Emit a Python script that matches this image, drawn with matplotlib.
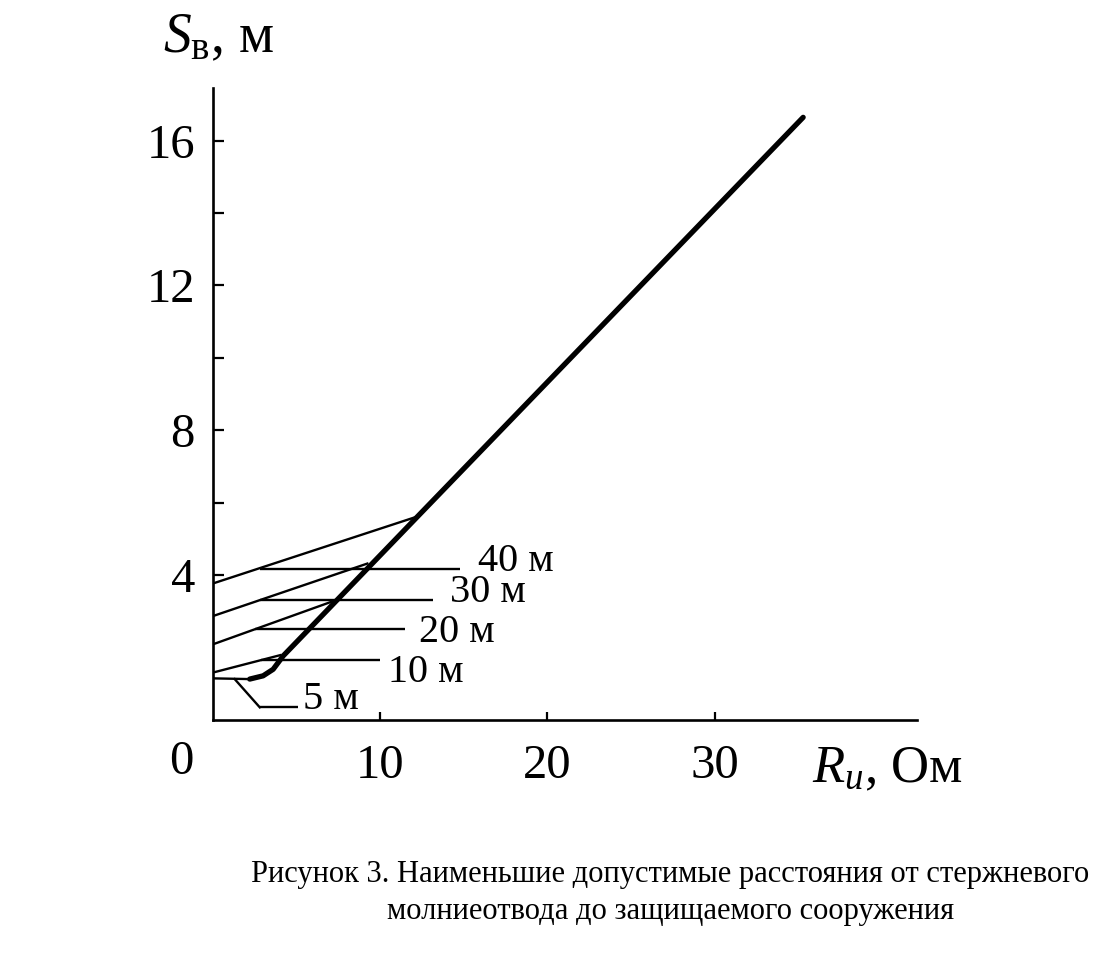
import matplotlib
matplotlib.use("Agg")
import matplotlib.pyplot as plt
from matplotlib.ticker import FixedLocator

plt.rcParams['font.family'] = ['Liberation Serif', 'DejaVu Serif']
plt.rcParams['mathtext.fontset'] = 'custom'
plt.rcParams['mathtext.rm'] = 'Liberation Serif'
plt.rcParams['mathtext.it'] = 'Liberation Serif:italic'

#==================================================================================================
#			DATA
#==================================================================================================
#Main curve S_v(R_i), thick line
main_R = [2.2, 3.0, 3.6, 4.2, 12.2, 35.3]
main_S = [1.13, 1.22, 1.40, 1.77, 5.60, 16.64]

#Height of the rod lightning conductor, curve labels
heights = ['5 м', '10 м', '20 м', '30 м', '40 м']
#Thin sloped lines: start at R=0 and end on the main curve
slope_S0 = [1.15, 1.31, 2.09, 2.87, 3.77]
slope_R1 = [2.2, 4.1, 7.3, 9.3, 12.1]
slope_S1 = [1.13, 1.80, 3.30, 4.33, 5.60]
#Horizontal leaders to the labels
lead_S = [0.35, 1.65, 2.51, 3.31, 4.16]
lead_R0 = [2.8, 2.85, 2.5, 2.8, 2.8]
lead_R1 = [5.1, 10.0, 11.5, 13.15, 14.76]
#Diagonal part of the 5 m leader
lead5_R = [1.3, 2.8]
lead5_S = [1.13, 0.35]

#Label positions (left, baseline)
lab_R = [5.4, 10.45, 12.35, 14.15, 15.85]
lab_S = [0.30, 1.05, 2.15, 3.25, 4.12]

x_ticks = [10, 20, 30]
y_ticks = [4, 8, 12, 16]
y_minor = [6, 10, 14]

caption = ("Рисунок 3. Наименьшие допустимые расстояния от стержневого\n"
           "молниеотвода до защищаемого сооружения")

#==================================================================================================
#			PLOT
#==================================================================================================
fig = plt.figure(figsize=(11.12, 9.64), dpi=100)
ax = fig.add_axes([0.1915, 0.2531, 0.633, 0.6556])

thin = 1.7
#thin lines
for i in range(len(heights)):
    ax.plot([0, slope_R1[i]], [slope_S0[i], slope_S1[i]], color='black', lw=thin,
            solid_capstyle='butt')
    ax.plot([lead_R0[i], lead_R1[i]], [lead_S[i], lead_S[i]], color='black', lw=thin,
            solid_capstyle='butt')
    ax.text(lab_R[i], lab_S[i], heights[i], fontsize=29, ha='left', va='baseline')
ax.plot(lead5_R, lead5_S, color='black', lw=thin)

#main curve
ax.plot(main_R, main_S, color='black', lw=3.8, solid_capstyle='round')

ax.set_xlim(0, 42.1)
ax.set_ylim(0, 17.45)
for s in ['top', 'right']:
    ax.spines[s].set_visible(False)
for s in ['left', 'bottom']:
    ax.spines[s].set_linewidth(1.9)

ax.set_xticks(x_ticks)
ax.set_xticklabels([str(t) for t in x_ticks])
ax.set_yticks(y_ticks)
ax.set_yticklabels([str(t) for t in y_ticks])
ax.yaxis.set_minor_locator(FixedLocator(y_minor))
ax.tick_params(axis='y', which='both', direction='in', length=8, width=1.6, pad=13,
               labelsize=35)
ax.tick_params(axis='x', which='major', direction='in', length=6, width=1.6, pad=17,
               labelsize=35)

#origin label and axis titles
ax.text(-1.9, -1.15, '0', fontsize=35, ha='center', va='center')
fig.text(163/1112, 1-52/964, r'$S_{\mathrm{в}}$, м', fontsize=40, ha='left', va='baseline')
fig.text(812/1112, 1-782/964, r'$R_{\mathit{и}}$, Ом', fontsize=38, ha='left', va='baseline')

fig.text(0.603, 1-893/964, caption, fontsize=22, ha='center', va='center',
         linespacing=1.35)

plt.savefig('out.png', dpi=100)
